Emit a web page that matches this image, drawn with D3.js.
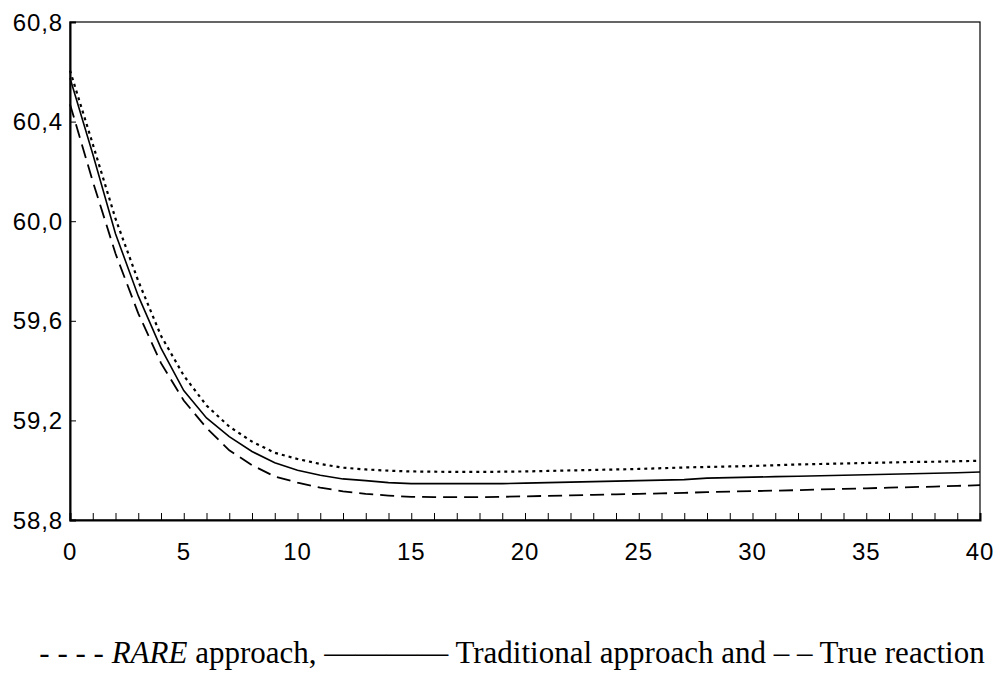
<!DOCTYPE html>
<html>
<head>
<meta charset="utf-8">
<script src="https://cdn.jsdelivr.net/npm/d3@7"></script>
<style>
  body { margin: 0; background: #fff; }
  svg { display: block; }
</style>
</head>
<body>
<svg width="1003" height="682"></svg>
<script>
// horizon 0..40
const steps = d3.range(0, 41);

// RARE approach (dotted)
const rare = [60.605, 60.31, 60.01, 59.76, 59.54, 59.38, 59.26, 59.175, 59.115, 59.07,
  59.045, 59.025, 59.01, 59.003, 58.998, 58.995, 58.994, 58.993, 58.993, 58.994,
  58.995, 58.997, 58.999, 59.001, 59.003, 59.005, 59.008, 59.011, 59.013, 59.015,
  59.017, 59.02, 59.023, 59.025, 59.027, 59.029, 59.031, 59.033, 59.034, 59.036, 59.038];

// Traditional approach (solid)
const traditional = [60.575, 60.27, 59.95, 59.70, 59.49, 59.32, 59.21, 59.135, 59.075, 59.03,
  59.0, 58.98, 58.965, 58.958, 58.95, 58.946, 58.946, 58.946, 58.946, 58.946,
  58.948, 58.95, 58.952, 58.954, 58.956, 58.958, 58.96, 58.962, 58.968, 58.97,
  58.972, 58.974, 58.976, 58.978, 58.98, 58.982, 58.984, 58.986, 58.988, 58.99, 58.993];

// True reaction (dashed)
const trueReaction = [60.47, 60.16, 59.87, 59.63, 59.43, 59.28, 59.17, 59.08, 59.02, 58.975,
  58.95, 58.93, 58.915, 58.905, 58.898, 58.893, 58.892, 58.892, 58.892, 58.893,
  58.895, 58.897, 58.899, 58.901, 58.903, 58.905, 58.907, 58.909, 58.912, 58.914,
  58.916, 58.918, 58.92, 58.923, 58.925, 58.927, 58.93, 58.932, 58.934, 58.937, 58.94];

const yTicks = [58.8, 59.2, 59.6, 60.0, 60.4, 60.8];
const xTicks = [0, 5, 10, 15, 20, 25, 30, 35, 40];

const m = {left: 70, right: 980, top: 22, bottom: 520};

let svg = d3.select("svg");

let x = d3.scaleLinear().domain([0, 40]).range([m.left, m.right]);
let y = d3.scaleLinear().domain([58.8, 60.8]).range([m.bottom, m.top]);

let fmt = d => d.toFixed(1).replace(".", ",");
const labelFont = "Liberation Sans, Arial, sans-serif";

// frame
svg.append("rect")
    .attr("x", m.left).attr("y", m.top)
    .attr("width", m.right - m.left).attr("height", m.bottom - m.top)
    .attr("fill", "none").attr("stroke", "#000").attr("stroke-width", 1.2);

// left axis
svg.append("g")
    .attr("transform", `translate(${m.left},0)`)
    .call(d3.axisRight(y).tickValues(yTicks).tickSize(6).tickFormat(""))
    .call(g => g.select(".domain").attr("stroke-width", 2));

svg.append("g")
    .selectAll("text").data(yTicks)
  .join("text")
    .attr("x", 63)
    .attr("y", d => y(d))
    .attr("dy", "0.36em")
    .attr("text-anchor", "end")
    .style("font-family", labelFont)
    .style("font-size", "24px")
    .style("letter-spacing", "0.9px")
    .text(fmt);

// bottom axis, a tick for each step
svg.append("g")
    .attr("transform", `translate(0,${m.bottom})`)
    .call(d3.axisTop(x).tickValues(steps).tickSize(7).tickFormat(""))
    .call(g => g.select(".domain").attr("stroke-width", 2));

svg.append("g")
    .selectAll("text").data(xTicks)
  .join("text")
    .attr("x", d => x(d))
    .attr("y", 560)
    .attr("text-anchor", "middle")
    .style("font-family", labelFont)
    .style("font-size", "24px")
    .style("letter-spacing", "0.9px")
    .text(d => d);

let line = d3.line().x((d, i) => x(steps[i])).y(d => y(d));

svg.append("path").datum(rare)
    .attr("d", line).attr("fill", "none").attr("stroke", "#000")
    .attr("stroke-width", 2.2).attr("stroke-dasharray", "3,4");

svg.append("path").datum(traditional)
    .attr("d", line).attr("fill", "none").attr("stroke", "#000")
    .attr("stroke-width", 1.6);

svg.append("path").datum(trueReaction)
    .attr("d", line).attr("fill", "none").attr("stroke", "#000")
    .attr("stroke-width", 1.8).attr("stroke-dasharray", "14,7");

// caption
let cap = svg.append("text")
    .attr("x", 512).attr("y", 663)
    .attr("text-anchor", "middle")
    .style("font-family", "Liberation Serif, Times New Roman, serif")
    .style("font-size", "31px");
cap.append("tspan").text("- - - - ");
cap.append("tspan").style("font-style", "italic").text("RARE");
cap.append("tspan").text(" approach, ———— Traditional approach and – – True reaction");
</script>
</body>
</html>
